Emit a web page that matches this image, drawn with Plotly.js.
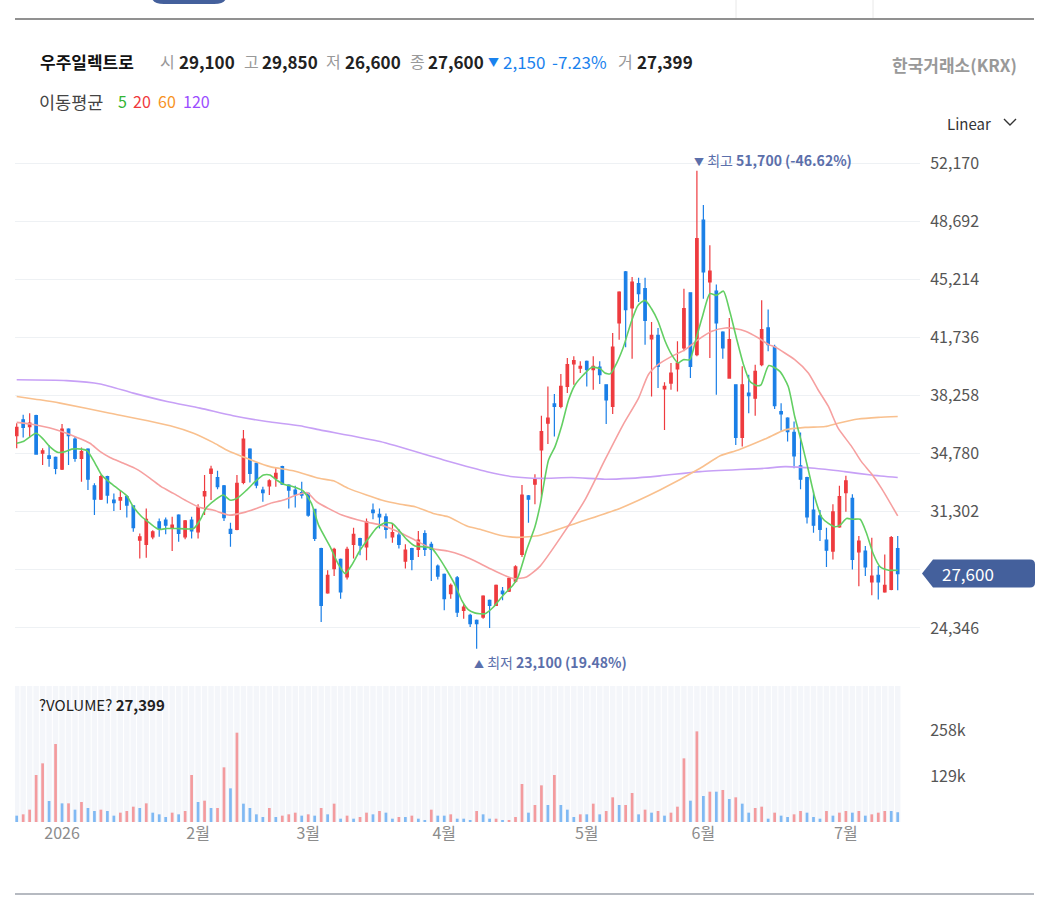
<!DOCTYPE html>
<html><head><meta charset="utf-8">
<script src="https://cdn.plot.ly/plotly-3.0.1.min.js"></script>
<style>html,body{margin:0;padding:0;background:#fff;}#chart{width:1044px;height:897px;}</style>
</head><body><div id="chart"></div>
<script>
const stockName = '우주일렉트로';
const exchangeName = '한국거래소(KRX)';
const opens = [
35850,36800,36400,37050,34800,34650,34550,33850,36250,35650,
34500,35050,32850,32050,33400,32000,32000,32200,31650,29600,
29350,29800,30700,30800,30300,31100,29800,30800,30100,32250,
33600,33350,32850,30250,30250,33050,35050,34200,32600,32850,
33300,34000,32900,32600,32450,32400,31450,29100,26450,27900,
28450,27400,29350,29700,29200,31400,31150,31000,29800,29900,
28350,29100,29050,30000,29350,28050,27550,26400,27350,25400,
25100,24800,25000,26000,25700,26550,26550,27150,28750,32250,
32950,35000,36600,37750,37600,38800,40150,39900,40300,39800,
39950,38900,37600,42600,45650,43500,44950,44650,41650,41850,
38650,39000,39850,41100,44400,40700,48750,45050,44500,42050,
39300,38900,35750,38400,38100,40100,42300,41150,37300,36900,
36050,34050,33350,31400,31050,29600,28950,30400,32450,32100,
28900,28950,27100,27500,26500,26650,29100];
const highs = [
36600,37100,37200,37100,35100,35300,34600,36550,36300,35800,
35150,35100,33000,33500,33450,32400,32550,32300,31650,30000,
31500,30200,30900,30950,31000,31150,30800,31000,31750,33500,
34050,33750,32900,30650,33500,36200,35100,34250,32800,33250,
33950,34050,32950,32850,33100,32450,31450,29150,27800,29150,
28500,29200,30350,29750,30900,31800,31500,31200,30600,30250,
29350,29150,30150,30200,29500,28150,27600,27000,27450,25800,
25200,24850,26300,26050,26950,26800,27400,28100,32900,32300,
33550,37050,38800,38350,39550,40500,40600,40300,40350,40600,
40300,38900,42000,44500,45700,45350,45300,45300,42650,42300,
39050,40200,41500,44650,44400,51700,49650,47250,44900,42100,
42900,38900,40000,39500,40100,43950,43400,41300,37800,36950,
36700,36050,33400,32550,31400,30350,31750,32850,33450,32350,
29850,29250,29750,28050,28750,29850,29850];
const lows = [
35100,35750,35750,34750,34100,34000,33550,33800,34100,34300,
33100,32600,31100,32000,31800,31350,31400,30950,30100,28500,
28550,29650,29800,29950,28950,29500,29650,29700,29700,31100,
32000,32650,30750,29200,30200,32950,33050,32700,31900,32300,
32800,32900,31500,31550,32100,31000,29550,24700,26400,27450,
26100,27250,28500,28700,28400,30850,30300,29700,29450,29100,
27900,27800,28600,28650,27150,27250,25400,26100,25000,24900,
24400,23100,24900,24350,25700,26000,26500,27050,28600,30650,
31750,32100,35350,35800,37500,38400,38900,39600,38800,38600,
38950,36550,37150,41600,41150,40450,43850,41300,38200,38700,
36200,38600,38500,40900,39300,40600,44050,40500,38300,40450,
39300,35300,35200,37200,37050,40000,40900,37450,36150,35500,
33900,32650,30600,30050,29550,28000,28450,30350,31300,27850,
26850,27450,26300,26050,26450,26600,26600];
const closes = [
36350,36350,36600,34750,34950,34500,33900,36250,35850,34500,
34900,33250,32050,33400,32300,31850,32150,31700,30350,29800,
30850,30100,30300,30500,30500,30000,30750,30150,31550,32500,
33850,32800,30950,30000,33000,35650,33600,32900,32450,33150,
33600,32950,32600,32350,32300,31100,29700,25700,27500,29050,
26500,29050,29950,29300,30700,31250,31000,30250,30050,29350,
29000,28450,29600,29050,29050,27450,26100,26900,25300,25600,
24600,24600,26250,25700,26900,26400,27300,28000,32300,32050,
33250,36100,36900,37600,38800,40100,40350,40000,39800,40000,
39500,38000,41150,44450,43400,45050,44350,42750,41850,40000,
38800,39600,40200,43450,40000,47650,45650,45700,42600,41100,
41600,35750,38900,38250,39700,42200,41300,37650,37150,36100,
34650,33250,31000,30500,30250,29000,31300,32200,33150,28450,
29550,28000,27450,27100,26900,29750,27600];
const volumes = [
17800,21500,34600,131800,164500,58900,218700,52300,52300,34600,
56100,39300,30800,34600,30800,17800,26200,30800,43000,39300,
52300,26200,21500,14000,26200,21500,30800,131800,56100,59800,
39300,39300,153300,94400,250500,51400,39300,21500,14000,39300,
14000,17800,21500,26200,17800,21500,17800,39300,21500,51400,
9300,17800,9300,14000,26200,21500,30800,26200,9300,14000,
14000,17800,9300,5600,34600,17800,17800,21500,9300,9300,
5600,30800,21500,9300,9300,5600,5600,14000,106600,26200,
47700,102800,47700,131800,47700,34600,14000,21500,21500,51400,
21500,30800,69200,47700,47700,81300,21500,34600,26200,30800,
17800,26200,43000,178500,59800,254200,72900,85000,85000,89700,
64500,69200,51400,26200,39300,43000,9300,26200,17800,14000,
21500,30800,26200,14000,9300,30800,17800,26200,30800,26200,
30800,17800,21500,26200,30800,30800,27399];
const volumeDir = [
-1,1,1,1,1,-1,1,-1,1,-1,
1,-1,-1,1,-1,-1,1,1,1,-1,
1,-1,-1,-1,1,-1,1,1,-1,1,
-1,1,1,-1,1,-1,-1,-1,-1,1,
-1,1,1,1,-1,1,-1,1,-1,1,
-1,1,-1,1,1,-1,1,-1,-1,1,
-1,1,-1,-1,1,-1,-1,1,-1,-1,
-1,1,-1,-1,1,-1,1,1,1,-1,
1,1,-1,1,-1,-1,-1,1,-1,1,
-1,1,1,-1,1,1,-1,1,-1,1,
-1,1,1,1,-1,1,-1,1,-1,1,
-1,1,-1,-1,1,1,-1,1,-1,-1,
1,1,-1,-1,-1,1,-1,1,1,-1,
1,-1,1,1,1,-1,-1];
const ma5X = [0,1,3,4.1,5.1,6.4,7.5,8.5,10,10.9,12.1,13.1,14.4,15.9,17,18,19.3,20.6,21.9,23.2,24.5,27.3,28.3,29.3,30.6,31.9,32.9,34,35.5,36.8,38.1,39.1,40.1,41.2,42.7,44.2,45.5,46.6,48.4,49.6,50.7,51.7,53,54.3,55.6,56.9,58,59.2,60.2,61.5,63,64.1,65.1,66.4,67.7,68.7,69.7,70.7,72.3,73.6,75.1,76.6,77.4,78.7,80,80.8,82.1,83.1,84.1,85.2,86.2,87.5,88.8,90.1,90.8,91.6,92.3,93.6,94.9,95.9,97,98,99,100.1,101.1,102.1,102.9,103.9,104.9,105.9,107,108,109.1,110.1,111.1,112.2,113.2,114.2,114.9,116.1,117.8,119.1,120.1,121.2,122.2,123.2,124.3,125.3,126.3,127.1,128.1,129.1,130.2,131.2,132.2,133.3,134.6,136];
const ma5Y = [35400,35500,36000,35650,35200,34850,34900,35050,35050,34950,34200,33500,33050,32600,32250,31600,31000,30600,30250,30300,30300,30300,30800,31550,32000,32300,32000,32100,32600,33100,33500,33500,33200,32950,32800,32550,31800,30500,29200,28200,27600,28100,29000,29700,30350,30650,30600,30100,29650,29250,29200,29100,28600,27800,26900,26000,25450,25250,25200,25600,26300,26900,27400,29000,30400,31700,34400,35200,36400,38000,38900,39500,39950,39850,39600,39550,39950,41100,42700,43650,43950,43450,42700,41500,40700,40200,40400,40400,41700,43050,44350,44250,44500,43250,41700,40100,39100,38850,38900,40050,39700,38800,37000,35400,33800,32150,30950,30600,30400,30500,30900,30850,30850,30000,28800,28000,27800,27800];
const ma20X = [0,2.1,4.1,5.7,7.7,9.3,11.3,12.9,14.4,16.5,18.5,20.6,22.3,24.2,26.2,28.3,30.3,32.9,35,37,39.1,41.2,43.2,44.8,46.3,50.2,53.8,56.3,58.9,61.5,64.1,66.5,68.7,70.5,73.6,76.7,78.7,80.8,84.2,87.7,90.8,93.6,96,97.5,99,101.1,103.2,105.2,107.3,109.4,111,112.5,114.5,116.1,117.1,120.1,122.2,123.7,125.3,126.8,128.9,130.4,131.9,133.5,136];
const ma20Y = [36650,36550,36400,36250,36000,35750,35400,34900,34550,34200,33850,33300,32800,32400,31950,31550,31400,31100,31250,31500,31800,32000,32300,32450,31900,31100,30700,30500,30100,29600,29100,28950,28700,28400,27800,27300,27400,28050,29900,32000,34400,36500,38100,39500,40100,40600,41000,41600,42100,42300,42250,42100,41700,41300,41150,40400,39600,38600,37600,36300,35200,34300,33600,32700,31050];
const ma60X = [0,3.6,6.7,14.4,23.7,27.3,30.3,32.4,35.5,39.1,42.7,46.7,48.9,51.2,54,56.3,59.2,61.5,64.3,66.6,69.5,71.5,74.6,77.2,80.8,87,93.1,99.3,105.5,108.6,111.4,115.5,118.6,121.7,124.8,126.8,129.9,133,136];
const ma60Y = [38200,38000,37800,37200,36450,36000,35450,35000,34500,34000,33750,33300,33150,32700,32300,32000,31750,31600,31200,31000,30450,30250,29900,29770,29900,30700,31500,32600,33900,34650,35000,35650,36200,36350,36400,36600,36850,36950,37000];
const ma120X = [0,7.7,12.9,18,23.2,28.3,33.4,38.6,43.7,46.8,56.1,65.9,72.6,76.6,80.8,85.7,90.8,94.6,99.3,105.5,115.5,118.6,123.2,127.8,131.9,136];
const ma120Y = [39200,39150,38950,38400,37900,37500,37050,36700,36450,36200,35500,34400,33700,33400,33300,33350,33250,33300,33450,33700,33900,34000,33900,33700,33500,33350];
const monthTickIdx = [7,28,45,66,88,106,128];
const monthTickText = ['2026','2월','3월','4월','5월','6월','7월'];
const priceTicks = [24346,27824,31302,34780,38258,41736,45214,48692,52170];
const volumeTicks = [129000,258000];
const volumeTickText = ['129k','258k'];
const maPeriods = ['5','20','60','120'];

const FONT = '"Noto Sans CJK KR", "Noto Sans", sans-serif';
const RED = '#ee3b3f', BLUE = '#1a7fe7';
const MA_COL = ['#63cf63','#f6a0a0','#f9c08e','#c7a0f6'];
const ML = 15, MR = 124, MT = 140, MB = 75, W = 1044, H = 897;
const PW = W - ML - MR, PH = H - MT - MB;
const px2x = p => (p - ML) / PW;
const py2y = p => (MT + PH - p) / PH;
const fmt = v => Math.round(v).toLocaleString('en-US');

const n = closes.length;
const idx = closes.map((_, i) => i);
const last = n - 1;
const priceDomain = [(MT + PH - 668) / PH, 1];
const volDomain = [0, (MT + PH - 686) / PH];
const priceRange = [21951, 53546];
const volRange = [0, 381400];
const dpp = (priceRange[1] - priceRange[0]) / ((priceDomain[1] - priceDomain[0]) * PH);

const data = [];
data.push({type:'bar', x: idx, y: idx.map(() => volRange[1]), width: 0.84, xaxis:'x2', yaxis:'y2',
  marker:{color:'#f4f6fa', line:{width:0}}, hoverinfo:'skip', showlegend:false});
data.push({type:'bar', x: idx, y: volumes, width: 0.42, xaxis:'x2', yaxis:'y2',
  marker:{color: volumeDir.map(d => d > 0 ? '#f39b9e' : '#80b9f3'), line:{width:0}}, hoverinfo:'skip', showlegend:false});
[[ma120X,ma120Y,3],[ma60X,ma60Y,2],[ma20X,ma20Y,1],[ma5X,ma5Y,0]].forEach(([xs,ys,k]) => {
  data.push({type:'scatter', mode:'lines', x: xs, y: ys, xaxis:'x', yaxis:'y',
    line:{color: MA_COL[k], width: 1.6, shape:'spline', smoothing:0.6}, hoverinfo:'skip', showlegend:false});
});
data.push({type:'candlestick', x: idx, open: opens, high: highs, low: lows, close: closes, xaxis:'x', yaxis:'y',
  increasing:{line:{color:RED, width:1.2}, fillcolor:RED},
  decreasing:{line:{color:BLUE, width:1.2}, fillcolor:BLUE},
  whiskerwidth:0, hoverinfo:'skip', showlegend:false});

const ann = [];
function txt(x, y, text, size, color, anchor) {
  ann.push({xref:'paper', yref:'paper', x: px2x(x), y: py2y(y), text: text, showarrow:false,
    xanchor: anchor || 'left', yanchor:'middle', font:{family:FONT, size:size, color:color}});
}
const prevClose = closes[last - 1];
const diff = closes[last] - prevClose;
const pct = diff / prevClose * 100;
const arrow = diff < 0 ? '▼' : '▲';
const chgCol = diff < 0 ? '#1a82ee' : '#ee3b3f';
txt(38, 61, '<b>' + stockName + '</b>', 17, '#111');
txt(158, 61, '시', 16, '#999'); txt(177, 61, '<b>' + fmt(opens[last]) + '</b>', 17, '#222');
txt(242, 61, '고', 16, '#999'); txt(260, 61, '<b>' + fmt(highs[last]) + '</b>', 17, '#222');
txt(324, 61, '저', 16, '#999'); txt(343, 61, '<b>' + fmt(lows[last]) + '</b>', 17, '#222');
txt(408, 61, '종', 16, '#999'); txt(426, 61, '<b>' + fmt(closes[last]) + '</b>', 17, '#222');
txt(486, 62, arrow, 11, chgCol);
txt(501, 61, fmt(Math.abs(diff)), 17, chgCol);
txt(550, 61, (diff < 0 ? '-' : '+') + Math.abs(pct).toFixed(2) + '%', 17, chgCol);
txt(616, 61, '거', 16, '#999'); txt(635, 61, '<b>' + fmt(volumes[last]) + '</b>', 17, '#222');
txt(1019, 64, '<b>' + exchangeName + '</b>', 17, '#999', 'right');
txt(37, 101, '이동평균', 17.5, '#444');
const maLegendX = [116, 131, 156, 181];
const maLegendCol = ['#33b533','#f0383c','#f7921e','#9b4dff'];
maPeriods.forEach((p, i) => txt(maLegendX[i], 101, p, 16, maLegendCol[i]));
txt(945, 123, 'Linear', 15, '#333');
txt(37, 704, '?VOLUME? <b>' + fmt(volumes[last]) + '</b>', 15, '#222');

let hiI = 0, loI = 0;
highs.forEach((v, i) => { if (v > highs[hiI]) hiI = i; });
lows.forEach((v, i) => { if (v < lows[loI]) loI = i; });
const hiPct = (closes[last] - highs[hiI]) / highs[hiI] * 100;
const loPct = (closes[last] - lows[loI]) / lows[loI] * 100;
ann.push({xref:'x', yref:'y', x: hiI, y: highs[hiI], xanchor:'left', yanchor:'middle', xshift:-5, yshift:11, showarrow:false,
  text:'<span style="font-size:10px">▼</span> 최고 <b>' + fmt(highs[hiI]) + ' (' + hiPct.toFixed(2) + '%)</b>',
  font:{family:FONT, size:14, color:'#5b6fab'}});
ann.push({xref:'x', yref:'y', x: loI, y: lows[loI], xanchor:'left', yanchor:'middle', xshift:-5, yshift:-13, showarrow:false,
  text:'<span style="font-size:10px">▲</span> 최저 <b>' + fmt(lows[loI]) + ' (' + loPct.toFixed(2) + '%)</b>',
  font:{family:FONT, size:14, color:'#5b6fab'}});
ann.push({xref:'paper', yref:'y', x: px2x(968), y: closes[last], xanchor:'center', yanchor:'middle', showarrow:false,
  text: fmt(closes[last]), font:{family:FONT, size:17, color:'#ffffff'}});

const c = closes[last], h = 14 * dpp;
// tick labels hidden behind the current-price tag stay blank
const priceTickText = priceTicks.map(v => Math.abs(v - c) < 1.2 * h ? '' : fmt(v));
const shapes = [
  {type:'path', xref:'paper', yref:'y', layer:'above', line:{width:0}, fillcolor:'#44609c',
   path:`M ${px2x(922)},${c} L ${px2x(933)},${c + h} L ${px2x(1030)},${c + h} Q ${px2x(1035)},${c + h} ${px2x(1035)},${c + h - 5 * dpp} L ${px2x(1035)},${c - h + 5 * dpp} Q ${px2x(1035)},${c - h} ${px2x(1030)},${c - h} L ${px2x(933)},${c - h} Z`},
  {type:'line', xref:'paper', yref:'paper', x0:px2x(15), x1:px2x(1034), y0:py2y(19), y1:py2y(19), line:{color:'#6c6c6c', width:1.5}},
  {type:'line', xref:'paper', yref:'paper', x0:px2x(15), x1:px2x(1034), y0:py2y(894), y1:py2y(894), line:{color:'#6f7684', width:1.2}},
  {type:'line', xref:'paper', yref:'paper', x0:px2x(736), x1:px2x(736), y0:py2y(0), y1:py2y(18), line:{color:'#e8e8e8', width:1}},
  {type:'line', xref:'paper', yref:'paper', x0:px2x(873), x1:px2x(873), y0:py2y(0), y1:py2y(18), line:{color:'#e8e8e8', width:1}},
  {type:'path', xref:'paper', yref:'paper', line:{width:0}, fillcolor:'#44609c',
   path:`M ${px2x(152)},${py2y(-4)} L ${px2x(152)},${py2y(-2)} Q ${px2x(153)},${py2y(4)} ${px2x(164)},${py2y(4)} L ${px2x(214)},${py2y(4)} Q ${px2x(225)},${py2y(4)} ${px2x(226)},${py2y(-2)} L ${px2x(226)},${py2y(-4)} Z`},
  {type:'path', xref:'paper', yref:'paper', line:{color:'#333', width:1.4},
   path:`M ${px2x(1004)},${py2y(119)} L ${px2x(1010)},${py2y(125)} L ${px2x(1016)},${py2y(119)}`}
];

const axCommon = {zeroline:false, showline:false, fixedrange:true};
const layout = {
  width:W, height:H, margin:{l:ML, r:MR, t:MT, b:MB, pad:0},
  paper_bgcolor:'#fff', plot_bgcolor:'#fff', showlegend:false,
  barmode:'overlay', boxgap:0.45, font:{family:FONT, color:'#333'},
  xaxis: Object.assign({domain:[0,1], range:[-0.262, 139.44], anchor:'y', showticklabels:false, showgrid:false,
    rangeslider:{visible:false}}, axCommon),
  xaxis2: Object.assign({domain:[0,1], range:[-0.262, 139.44], anchor:'y2', tickmode:'array', tickvals:monthTickIdx,
    ticktext:monthTickText, tickfont:{family:FONT, size:16, color:'#8c8c8c'}, showgrid:false, ticks:''}, axCommon),
  yaxis: Object.assign({domain:priceDomain, range:priceRange, anchor:'x', side:'right', tickmode:'array',
    tickvals:priceTicks, ticktext:priceTickText, tickfont:{family:FONT, size:16, color:'#555'},
    showgrid:true, gridcolor:'#eef1f4', gridwidth:1, ticks:'outside', ticklen:6, tickcolor:'rgba(0,0,0,0)'}, axCommon),
  yaxis2: Object.assign({domain:volDomain, range:volRange, anchor:'x2', side:'right', tickmode:'array',
    tickvals:volumeTicks, ticktext:volumeTickText, tickfont:{family:FONT, size:16, color:'#555'},
    showgrid:false, ticks:'outside', ticklen:6, tickcolor:'rgba(0,0,0,0)'}, axCommon),
  annotations: ann, shapes: shapes
};
Plotly.newPlot('chart', data, layout, {staticPlot:true, displayModeBar:false});
</script></body></html>
